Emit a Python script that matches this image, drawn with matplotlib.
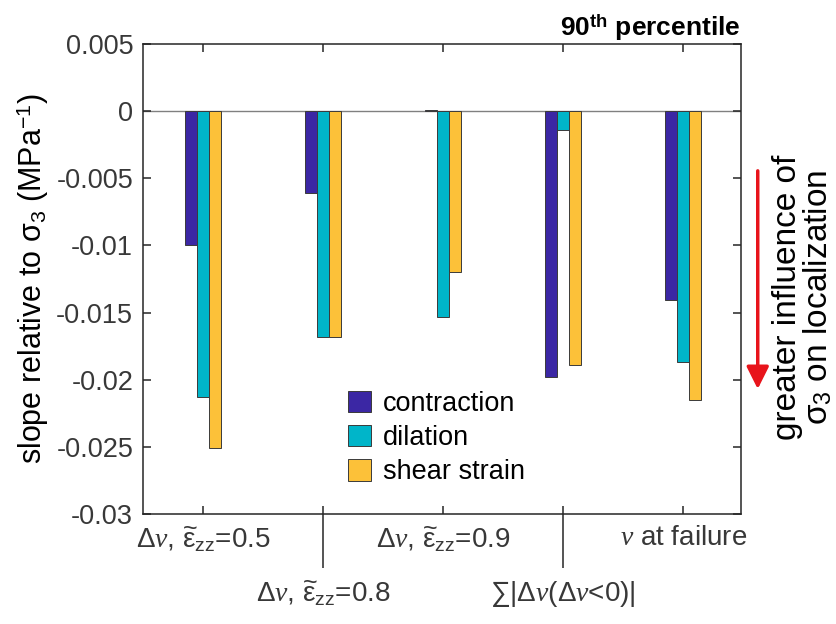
import numpy as np
import matplotlib
matplotlib.use('Agg')
import matplotlib.pyplot as plt

plt.rcParams['font.family'] = ['Liberation Sans', 'DejaVu Sans']
plt.rcParams['mathtext.fontset'] = 'custom'
plt.rcParams['mathtext.rm'] = 'Liberation Sans'
plt.rcParams['mathtext.it'] = 'Liberation Serif:italic'
plt.rcParams['mathtext.bf'] = 'Liberation Sans:bold'

# data
groups = [r'$\Delta\mathit{v}$, $\widetilde{\mathrm{\varepsilon}}_{\mathrm{zz}}$=0.5',
          r'$\Delta\mathit{v}$, $\widetilde{\mathrm{\varepsilon}}_{\mathrm{zz}}$=0.8',
          r'$\Delta\mathit{v}$, $\widetilde{\mathrm{\varepsilon}}_{\mathrm{zz}}$=0.9',
          r'∑|$\Delta\mathit{v}$($\Delta\mathit{v}$<0)|',
          r'$\mathit{v}$ at failure']
contraction = [-0.0100, -0.0061, 0.0001, -0.0198, -0.0141]
dilation = [-0.0213, -0.0168, -0.0153, -0.0014, -0.0187]
shear = [-0.0251, -0.0168, -0.0120, -0.0189, -0.0215]
series_names = ['contraction', 'dilation', 'shear strain']
colors = ['#3b27a4', '#00b5c9', '#fcc139']
yticks = [0.005, 0, -0.005, -0.01, -0.015, -0.02, -0.025, -0.03]
ytick_labels = ['0.005', '0', '-0.005', '-0.01', '-0.015', '-0.02', '-0.025', '-0.03']

dark = '#262626'
txt = '#383838'
fig = plt.figure(figsize=(8.37, 6.24), dpi=100)
ax = fig.add_axes([0.1708, 0.1763, 0.7145, 0.7532])

x = np.arange(1, len(groups) + 1)
w = 0.1
ax.axhline(0, color='#808080', lw=1.0, zorder=1)
for k, (vals, name, c) in enumerate(zip([contraction, dilation, shear], series_names, colors)):
    ax.bar(x + (k - 1) * w, vals, width=w, color=c, edgecolor='#3a3a3a',
           linewidth=0.7, label=name, zorder=2)

ax.set_xlim(0.5, 5.48)
ax.set_ylim(-0.03, 0.005)
ax.set_yticks(yticks, ytick_labels)

# alternating label rows, long ticks separate the lower row
ax.xaxis.remove_overlapping_locs = False
ax.set_xticks(x, [groups[i] if i % 2 == 0 else '' for i in range(len(groups))])
ax.set_xticks(x[1::2], groups[1::2], minor=True)
ax.tick_params(which='major', direction='in', length=6, width=1.1, top=True, right=True,
               labelsize=19.5, color=dark, labelcolor=txt, pad=7)
ax.tick_params(axis='x', which='major', labelsize=20, pad=8)
ax.tick_params(axis='x', which='minor', direction='out', length=39, width=1.1,
               top=False, labelsize=20, color=dark, labelcolor=txt, pad=8)
for s in ax.spines.values():
    s.set_linewidth(1.1)
    s.set_color(dark)

ax.set_ylabel(r'slope relative to $\mathrm{\sigma}_3$ (MPa$^{-1}$)', fontsize=22,
              color='black', labelpad=4)
ax.set_title(r'90$^{\mathbf{th}}$ percentile', loc='right', fontweight='bold',
             fontsize=19, pad=6)

ax.legend(loc='upper left', bbox_to_anchor=(0.343, 0.262), frameon=False, fontsize=19.5,
          handlelength=0.84, handleheight=0.84, handletextpad=0.45, labelspacing=0.3,
          borderpad=0, borderaxespad=0)

ax.annotate('', xy=(1.028, 0.26), xytext=(1.028, 0.736), xycoords='axes fraction',
            annotation_clip=False,
            arrowprops=dict(arrowstyle='-|>', color='#e8141b', lw=2.5, mutation_scale=34))
ax.text(1.104, 0.46, 'greater influence of\n' + r'$\mathrm{\sigma}_3$ on localization',
        transform=ax.transAxes, rotation=90, ha='center', va='center', fontsize=24,
        color='black', linespacing=0.95, multialignment='center')

fig.savefig('out.png', dpi=100)
